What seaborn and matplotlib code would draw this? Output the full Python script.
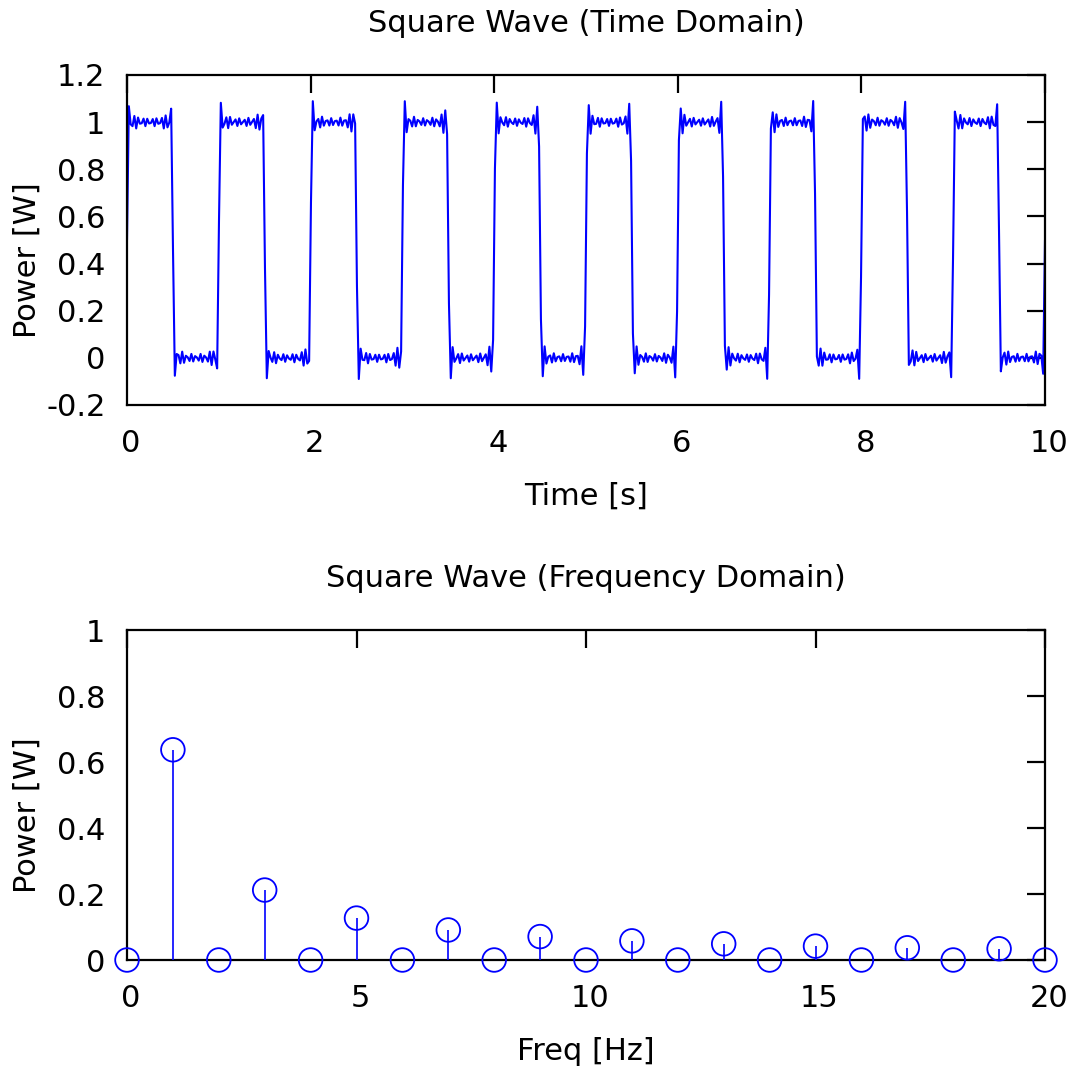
import numpy as np
import matplotlib
matplotlib.use("Agg")
import matplotlib.pyplot as plt
import matplotlib.transforms as mtransforms
from matplotlib.ticker import FixedLocator, FuncFormatter
import pandas as pd
import seaborn as sns

# ---------------- data ----------------
freq_hz = [0, 1, 2, 3, 4, 5, 6, 7, 8, 9, 10,
           11, 12, 13, 14, 15, 16, 17, 18, 19, 20]
power_w = [0.0, 0.637, 0.0, 0.212, 0.0, 0.127, 0.0, 0.091, 0.0, 0.071, 0.0,
           0.058, 0.0, 0.049, 0.0, 0.042, 0.0, 0.037, 0.0, 0.034, 0.0]
dc_level = 0.5            # mean level of the time-domain wave
time_start, time_end, n_samples = 0.0, 10.0, 500

time_xticks = [0, 2, 4, 6, 8, 10]
time_yticks = [-0.2, 0, 0.2, 0.4, 0.6, 0.8, 1, 1.2]
freq_xticks = [0, 5, 10, 15, 20]
freq_yticks = [0, 0.2, 0.4, 0.6, 0.8, 1]

title_top = "Square Wave (Time Domain)"
title_bottom = "Square Wave (Frequency Domain)"
xlabel_top = "Time [s]"
xlabel_bottom = "Freq [Hz]"
ylabel = "Power [W]"

# time-domain wave = synthesis of the plotted spectrum
time_s = np.linspace(time_start, time_end, n_samples)
wave = dc_level + sum(p * np.sin(2 * np.pi * f * time_s)
                      for f, p in zip(freq_hz, power_w))
df_time = pd.DataFrame({"t": time_s, "p": wave})
df_freq = pd.DataFrame({"f": freq_hz, "p": power_w})

# ---------------- style ----------------
sns.set_theme(style="white")
FS = 22
plt.rcParams["font.family"] = ["DejaVu Sans"]
plt.rcParams["axes.unicode_minus"] = False
plt.rcParams["font.size"] = FS

W, H = 1076, 1069
fig = plt.figure(figsize=(W / 100, H / 100), dpi=100)
ax1 = fig.add_axes([127 / W, 1 - 405 / H, 918 / W, 330 / H])
ax2 = fig.add_axes([127 / W, 1 - 960 / H, 918 / W, 330 / H])

BLUE = "#0000ff"

sns.lineplot(data=df_time, x="t", y="p", ax=ax1, color=BLUE, linewidth=1.5)

ax2.vlines(df_freq["f"], 0, df_freq["p"], color=BLUE, linewidth=1.2, zorder=3)
sns.scatterplot(data=df_freq, x="f", y="p", ax=ax2, marker="o", s=17 ** 2,
                color=BLUE, facecolor="none", edgecolor=BLUE, linewidth=1.3,
                clip_on=False, zorder=4)

fmt = FuncFormatter(lambda v, pos: f"{v:g}")


def style_axes(ax, xt, yt, xlim, ylim, title, xl):
    ax.set_xlim(*xlim)
    ax.set_ylim(*ylim)
    ax.xaxis.set_major_locator(FixedLocator(xt))
    ax.yaxis.set_major_locator(FixedLocator(yt))
    ax.xaxis.set_major_formatter(fmt)
    ax.yaxis.set_major_formatter(fmt)
    ax.tick_params(direction="in", length=13, width=1.6, color="black",
                   top=True, right=True, labelsize=FS, labelcolor="black")
    ax.tick_params(axis="x", pad=17)
    ax.tick_params(axis="y", pad=15.5)
    for sp in ax.spines.values():
        sp.set_visible(True)
        sp.set_color("black")
        sp.set_linewidth(1.6)
    ax.set_title(title, fontsize=FS, pad=31, color="black")
    ax.set_xlabel(xl, fontsize=FS, color="black")
    ax.set_ylabel(ylabel, fontsize=FS, color="black")
    ax.xaxis.set_label_coords(0.5, -77 / 330)
    ax.yaxis.set_label_coords(-85 / 918, 0.44)
    ax.grid(False)


style_axes(ax1, time_xticks, time_yticks, (0, 10), (-0.2, 1.2), title_top, xlabel_top)
style_axes(ax2, freq_xticks, freq_yticks, (0, 20), (0, 1), title_bottom, xlabel_bottom)

fig.canvas.draw()
shift = mtransforms.ScaledTranslation(4 / 100, 0, fig.dpi_scale_trans)
for ax in (ax1, ax2):
    for lab in ax.get_xticklabels():
        lab.set_transform(lab.get_transform() + shift)

fig.savefig("out.png", dpi=100, facecolor="white")
